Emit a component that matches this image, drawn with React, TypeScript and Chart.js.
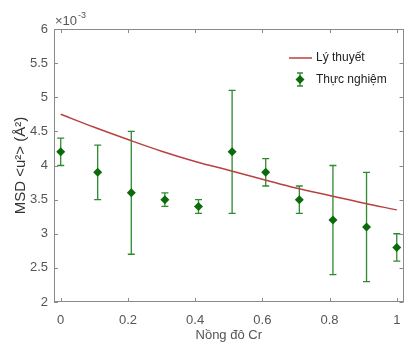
import React, { useEffect, useRef } from 'react';
import { Chart, registerables } from 'chart.js';

Chart.register(...registerables);

// Data (MSD values in units of 1e-3 Å²)
const concentrations = [0, 0.11, 0.21, 0.31, 0.41, 0.51, 0.61, 0.71, 0.81, 0.91, 1.0];
const msdExperimental = [4.2, 3.9, 3.6, 3.5, 3.4, 4.2, 3.9, 3.5, 3.2, 3.1, 2.8];
const errLower = [4.0, 3.5, 2.7, 3.4, 3.3, 3.3, 3.7, 3.3, 2.4, 2.3, 2.6];
const errUpper = [4.4, 4.3, 4.5, 3.6, 3.5, 5.1, 4.1, 3.7, 4.0, 3.9, 3.0];
const theoryX = [0, 0.1, 0.2, 0.3, 0.4, 0.5, 0.6, 0.7, 0.8, 0.9, 1.0];
const msdTheory = [4.75, 4.56, 4.38, 4.21, 4.06, 3.93, 3.8, 3.67, 3.56, 3.45, 3.35];
const xTicks = [0, 0.2, 0.4, 0.6, 0.8, 1];
const yTicks = [2, 2.5, 3, 3.5, 4, 4.5, 5, 5.5, 6];

const theoryLabel = 'Lý thuyết';
const expLabel = 'Thực nghiệm';
const xTitle = 'Nồng đô Cr';
const yTitle = 'MSD <u²> (Å²)';

const FONT = '"Liberation Sans", Arial, Helvetica, sans-serif';
const AXIS_COLOR = '#8a8a8a';
const LABEL_COLOR = '#555555';
const RED = '#b8413f';
const ERR_GREEN = '#2f8a2f';
const MARK_GREEN = '#0b6b0b';

function drawErrorBar(ctx: CanvasRenderingContext2D, px: number, top: number, bot: number, cap: number) {
  ctx.beginPath();
  ctx.moveTo(px, top);
  ctx.lineTo(px, bot);
  ctx.moveTo(px - cap, top);
  ctx.lineTo(px + cap, top);
  ctx.moveTo(px - cap, bot);
  ctx.lineTo(px + cap, bot);
  ctx.stroke();
}

function drawDiamond(ctx: CanvasRenderingContext2D, x: number, y: number, r: number) {
  ctx.beginPath();
  ctx.moveTo(x, y - r);
  ctx.lineTo(x + r, y);
  ctx.lineTo(x, y + r);
  ctx.lineTo(x - r, y);
  ctx.closePath();
  ctx.fill();
}

const customPlugin = {
  id: 'matlabStyle',
  beforeDatasetsDraw(chart: any) {
    const { ctx, scales } = chart;
    const x = scales.x;
    const y = scales.y;
    ctx.save();
    ctx.strokeStyle = ERR_GREEN;
    ctx.lineWidth = 1.3;
    concentrations.forEach((c, i) => {
      const px = x.getPixelForValue(c);
      drawErrorBar(ctx, px, y.getPixelForValue(errUpper[i]), y.getPixelForValue(errLower[i]), 3.5);
    });
    ctx.restore();
  },
  afterDraw(chart: any) {
    const { ctx, chartArea, scales } = chart;
    const { left, right, top, bottom } = chartArea;
    const x = scales.x;
    const y = scales.y;
    ctx.save();
    // box
    ctx.strokeStyle = AXIS_COLOR;
    ctx.lineWidth = 1;
    ctx.strokeRect(Math.round(left) + 0.5, Math.round(top) + 0.5, Math.round(right - left) - 1, Math.round(bottom - top) - 1);
    // ticks inward
    const tl = 4;
    ctx.beginPath();
    xTicks.forEach((v) => {
      const px = Math.round(x.getPixelForValue(v)) + 0.5;
      ctx.moveTo(px, bottom);
      ctx.lineTo(px, bottom - tl);
      ctx.moveTo(px, top);
      ctx.lineTo(px, top + tl);
    });
    yTicks.forEach((v) => {
      const py = Math.round(y.getPixelForValue(v)) + 0.5;
      ctx.moveTo(left, py);
      ctx.lineTo(left + tl, py);
      ctx.moveTo(right, py);
      ctx.lineTo(right - tl, py);
    });
    ctx.stroke();

    // exponent label
    ctx.fillStyle = LABEL_COLOR;
    ctx.textBaseline = 'alphabetic';
    ctx.textAlign = 'left';
    ctx.font = `13px ${FONT}`;
    ctx.fillText('×10', left + 1, top - 4);
    const w = ctx.measureText('×10').width;
    ctx.font = `9px ${FONT}`;
    ctx.fillText('-3', left + 1 + w + 1, top - 11);

    // legend
    const lx = 289;
    ctx.strokeStyle = RED;
    ctx.lineWidth = 1.5;
    ctx.beginPath();
    ctx.moveTo(lx, 58);
    ctx.lineTo(lx + 23, 58);
    ctx.stroke();
    ctx.strokeStyle = ERR_GREEN;
    ctx.lineWidth = 1.3;
    drawErrorBar(ctx, lx + 11, 73, 86, 3);
    ctx.fillStyle = MARK_GREEN;
    drawDiamond(ctx, lx + 11, 79.5, 4.5);
    ctx.fillStyle = '#222222';
    ctx.font = `12px ${FONT}`;
    ctx.textBaseline = 'middle';
    ctx.fillText(theoryLabel, lx + 27, 58);
    ctx.fillText(expLabel, lx + 27, 80);
    ctx.restore();
  },
};

export default function App() {
  const canvasRef = useRef<HTMLCanvasElement | null>(null);

  useEffect(() => {
    const canvas = canvasRef.current;
    if (!canvas) return;
    const chart = new Chart(canvas, {
      type: 'scatter',
      data: {
        datasets: [
          {
            label: theoryLabel,
            data: theoryX.map((v, i) => ({ x: v, y: msdTheory[i] })),
            showLine: true,
            borderColor: RED,
            borderWidth: 1.5,
            pointRadius: 0,
            tension: 0.4,
            fill: false,
          },
          {
            label: expLabel,
            data: concentrations.map((v, i) => ({ x: v, y: msdExperimental[i] })),
            showLine: false,
            pointStyle: 'rectRot',
            pointRadius: 4.5,
            backgroundColor: MARK_GREEN,
            borderColor: MARK_GREEN,
            borderWidth: 0,
          },
        ],
      },
      options: {
        animation: false,
        responsive: false,
        devicePixelRatio: 1,
        layout: { padding: { top: 29, right: 1, left: 0, bottom: 0 } },
        plugins: {
          legend: { display: false },
          tooltip: { enabled: false },
        },
        scales: {
          x: {
            type: 'linear',
            min: -0.02,
            max: 1.02,
            afterBuildTicks: (s: any) => {
              s.ticks = xTicks.map((v) => ({ value: v }));
            },
            afterFit: (s: any) => {
              s.height = 40;
              s.paddingLeft = 0;
              s.paddingRight = 0;
            },
            grid: { display: false, drawTicks: false, tickLength: 0 },
            border: { display: false },
            ticks: {
              color: LABEL_COLOR,
              font: { family: FONT, size: 13 },
              padding: 11,
              maxRotation: 0,
              callback: (v: any) => String(v),
            },
            title: {
              display: true,
              text: xTitle,
              color: LABEL_COLOR,
              font: { family: FONT, size: 13 },
              padding: { top: 0, bottom: -1 },
            },
          },
          y: {
            type: 'linear',
            min: 2,
            max: 6,
            afterBuildTicks: (s: any) => {
              s.ticks = yTicks.map((v) => ({ value: v }));
            },
            afterFit: (s: any) => {
              s.width = 54;
              s.paddingTop = 0;
              s.paddingBottom = 0;
            },
            grid: { display: false, drawTicks: false, tickLength: 0 },
            border: { display: false },
            ticks: {
              color: LABEL_COLOR,
              font: { family: FONT, size: 13 },
              padding: 6,
              callback: (v: any) => String(v),
            },
            title: {
              display: true,
              text: yTitle,
              color: '#333333',
              font: { family: FONT, size: 15 },
              padding: { top: 12, bottom: 0 },
            },
          },
        },
      },
      plugins: [customPlugin],
    });
    return () => chart.destroy();
  }, []);

  return (
    <div style={{ position: 'fixed', left: 0, top: 0, width: 408, height: 342, background: '#ffffff' }}>
      <canvas ref={canvasRef} width={408} height={342} style={{ width: 408, height: 342, display: 'block' }} />
    </div>
  );
}
